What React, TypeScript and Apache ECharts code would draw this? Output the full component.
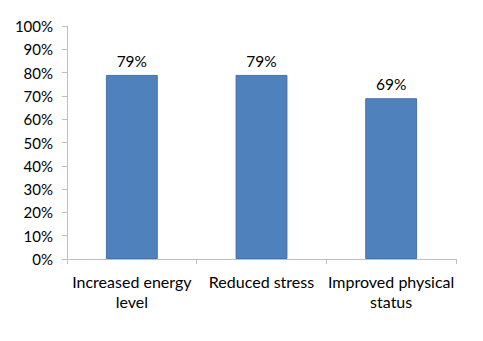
import React, { useEffect, useRef } from "react";
import * as echarts from "echarts";

const categories = ["Increased energy\nlevel", "Reduced stress", "Improved physical\nstatus"];
const values = [79, 79, 69];
const yTicks = { min: 0, max: 100, interval: 10 };

export default function App() {
  const ref = useRef<HTMLDivElement>(null);
  useEffect(() => {
    const chart = echarts.init(ref.current!, null, { renderer: "svg" });
    const font = "Lato, 'Open Sans', sans-serif";
    chart.setOption({
      animation: false,
      grid: { left: 67, right: 27, top: 26, bottom: 82, containLabel: false },
      xAxis: {
        type: "category",
        data: categories,
        axisLine: { lineStyle: { color: "#bfbfbf", width: 1 } },
        axisTick: { show: true, length: 5, lineStyle: { color: "#bfbfbf" }, alignWithLabel: false },
        axisLabel: { interval: 0, color: "#000", fontFamily: font, fontSize: 16, lineHeight: 20, margin: 12 },
      },
      yAxis: {
        type: "value",
        min: yTicks.min,
        max: yTicks.max,
        interval: yTicks.interval,
        axisLine: { show: true, lineStyle: { color: "#bfbfbf", width: 1 } },
        axisTick: { show: true, length: 5, lineStyle: { color: "#bfbfbf" } },
        splitLine: { show: false },
        axisLabel: { color: "#000", fontFamily: font, fontSize: 15, margin: 14, formatter: "{value}%" },
      },
      series: [
        {
          type: "bar",
          data: values,
          barWidth: "40%",
          itemStyle: { color: "#4f81bd", borderColor: "#4572a7", borderWidth: 1 },
          label: {
            show: true,
            position: "top",
            distance: 6,
            color: "#000",
            fontFamily: font,
            fontSize: 15.5,
            formatter: "{c}%",
          },
        },
      ],
    });
    return () => chart.dispose();
  }, []);
  return <div ref={ref} style={{ width: 483, height: 341, margin: -8 }} />;
}
